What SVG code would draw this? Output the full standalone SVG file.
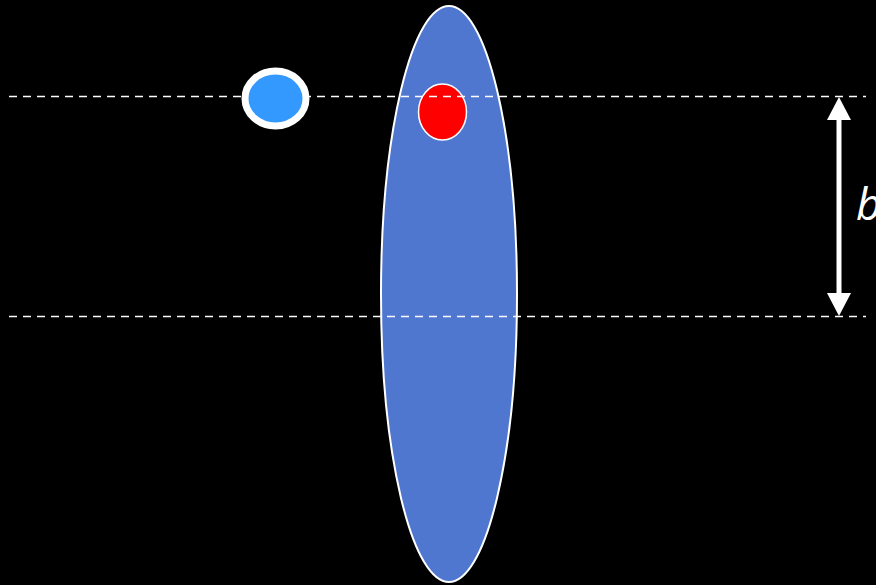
<svg xmlns="http://www.w3.org/2000/svg" width="876" height="585" viewBox="0 0 876 585">
<style>
.dash{stroke:#fff;stroke-width:1.6;stroke-dasharray:8 6;fill:none}
.lbl{font-family:"Open Sans","DejaVu Sans",sans-serif;font-style:italic;fill:#fff;font-size:44px}
</style>
<rect width="876" height="585" fill="#000"/>
<g id="lens">
<ellipse cx="449" cy="294" rx="68" ry="288" fill="#4F77D0" stroke="#fff" stroke-width="2"/>
</g>
<g id="red">
<ellipse cx="442.5" cy="112" rx="24" ry="28" fill="#FF0000" stroke="#fff" stroke-width="1.5"/>
</g>
<g id="connectors">
<line class="dash" x1="9" y1="96.5" x2="866" y2="96.5"/>
<line class="dash" x1="9" y1="316.5" x2="866" y2="316.5"/>
<line x1="839" y1="115" x2="839" y2="298" stroke="#fff" stroke-width="5"/>
<polygon points="839,97 851,120 827,120" fill="#fff"/>
<polygon points="839,316 851,293 827,293" fill="#fff"/>
</g>
<g id="blue">
<ellipse cx="275.5" cy="98.5" rx="30.5" ry="27.5" fill="#3399FF" stroke="#fff" stroke-width="7"/>
</g>
<g id="label">
<text class="lbl" x="856" y="220">b</text>
</g>
</svg>
